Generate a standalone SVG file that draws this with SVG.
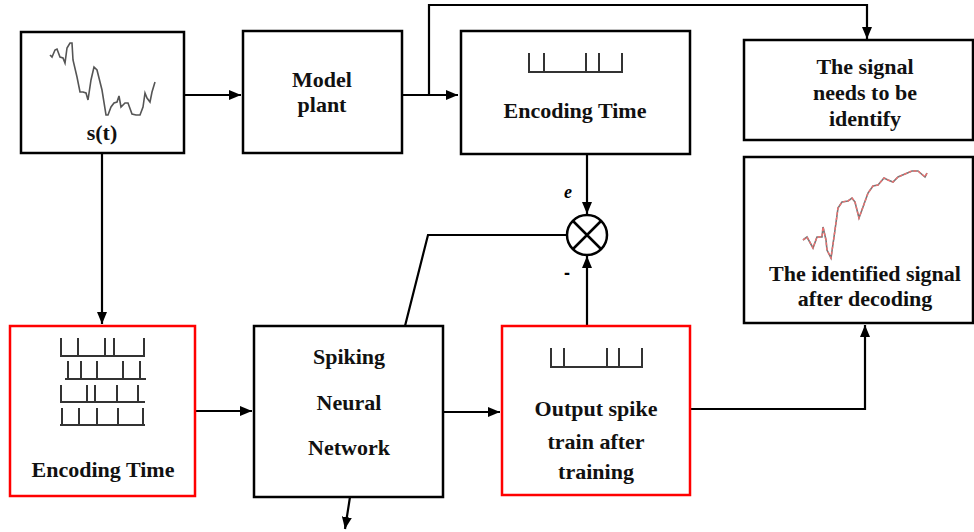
<svg xmlns="http://www.w3.org/2000/svg" width="974" height="532" viewBox="0 0 974 532">
<style>
.box{fill:#fff;stroke:#000;stroke-width:2.5}
.rbox{fill:#fff;stroke:#f00;stroke-width:2.5}
.t{font-family:'Liberation Serif','DejaVu Serif',serif;font-weight:bold;font-size:22px;fill:#111;text-anchor:middle}
.c{fill:none;stroke:#000;stroke-width:2.2}
.sp{fill:none;stroke:#333;stroke-width:2}
</style>
<defs>
<marker id="ah" markerUnits="userSpaceOnUse" markerWidth="13" markerHeight="11" refX="12" refY="5" orient="auto">
<path d="M0,0 L12,5 L0,10 z" fill="#000"/>
</marker>
</defs>
<rect width="974" height="532" fill="#fff"/>

<g id="connectors">
<path class="c" d="M184,95 L241,95" marker-end="url(#ah)"/>
<path class="c" d="M402,95 L458,95" marker-end="url(#ah)"/>
<path class="c" d="M429,95 L429,5 L867,5 L867,39" marker-end="url(#ah)"/>
<path class="c" d="M587,154 L587,214" marker-end="url(#ah)"/>
<path class="c" d="M587,326 L587,256" marker-end="url(#ah)"/>
<path class="c" d="M567,235 L428,235 L405,326"/>
<path class="c" d="M102,153 L102,324" marker-end="url(#ah)"/>
<path class="c" d="M195,411 L252,411" marker-end="url(#ah)"/>
<path class="c" d="M443,412 L500,412" marker-end="url(#ah)"/>
<path class="c" d="M690,409 L865,409 L865,325" marker-end="url(#ah)"/>
<path class="c" d="M350,497 L345,529" marker-end="url(#ah)"/>
</g>

<g id="sum">
<circle cx="587" cy="235" r="20" fill="#fff" stroke="#000" stroke-width="2.5"/>
<path d="M573,221 L601,249 M601,221 L573,249" stroke="#000" stroke-width="2.5"/>
<text x="568" y="198" font-family="'Liberation Serif','DejaVu Serif',serif" font-style="italic" font-weight="bold" font-size="18" text-anchor="middle">e</text>
<text x="567" y="279" font-family="'Liberation Sans',sans-serif" font-weight="bold" font-size="18" text-anchor="middle">-</text>
</g>

<g id="signal">
<rect class="box" x="21" y="32" width="163" height="121"/>
<polyline fill="none" stroke="#555" stroke-width="1.6" points="50,55 52,57 55,50 57,49 60,57 63,58 65,63 67,48 70,43 72,43 73,60 77,77 80,92 83,92 86,93 88,100 91,80 94,67 97,70 102,90 106,115 108,115 111,107 114,103 117,102 119,96 121,107 125,103 128,103 132,114 136,115 140,115 143,107 145,93 147,98 150,102 152,92 155,82"/>
<text class="t" x="102" y="140">s(t)</text>
</g>

<g id="model">
<rect class="box" x="243" y="31" width="159" height="122"/>
<text class="t" x="322" y="87">Model</text>
<text class="t" x="322" y="112">plant</text>
</g>

<g id="enc-top">
<rect class="box" x="461" y="31" width="229" height="123"/>
<path class="sp" d="M529,53 V72 H622 V53 M544,53 V72 M586,53 V72 M599,53 V72"/>
<text class="t" x="575" y="118">Encoding Time</text>
</g>

<g id="need">
<rect class="box" x="744" y="40" width="229" height="100"/>
<text class="t" x="865" y="74">The signal</text>
<text class="t" x="865" y="100">needs to be</text>
<text class="t" x="865" y="126">identify</text>
</g>

<g id="identified">
<rect class="box" x="744" y="157" width="229" height="166"/>
<polyline fill="none" stroke="#777" stroke-width="1.6" points="803,240 807,237 813,248 817,237 822,237 823,227 826,240 827,250 831,258 835,230 838,208 842,202 848,201 852,198 855,202 859,218 863,207 868,193 873,186 878,185 884,178 888,180 893,182 898,177 905,174 912,171 918,171 925,177 927,173"/>
<polyline fill="none" stroke="#f07070" stroke-width="1.4" stroke-dasharray="3,2" points="803,240 807,237 813,248 817,237 822,237 823,227 826,240 827,250 831,258 835,230 838,208 842,202 848,201 852,198 855,202 859,218 863,207 868,193 873,186 878,185 884,178 888,180 893,182 898,177 905,174 912,171 918,171 925,177 927,173"/>
<text class="t" x="865" y="281">The identified signal</text>
<text class="t" x="865" y="306">after decoding</text>
</g>

<g id="enc-bottom">
<rect class="rbox" x="10" y="326" width="185" height="170"/>
<path class="sp" d="M61,338 V356 H145 M78,338 V356 M105,338 V356 M114,338 V356 M144,338 V356"/>
<path class="sp" d="M65,379 H146 M68,361 V379 M81,361 V379 M97,361 V379 M123,361 V379 M140,361 V379"/>
<path class="sp" d="M60,402 H145 M61,385 V402 M87,385 V402 M95,385 V402 M117,385 V402 M138,385 V402"/>
<path class="sp" d="M60,425 H145 M62,408 V425 M79,408 V425 M97,408 V425 M118,408 V425 M143,408 V425"/>
<text class="t" x="103" y="477">Encoding Time</text>
</g>

<g id="snn">
<rect class="box" x="254" y="326" width="189" height="171"/>
<text class="t" x="349" y="364">Spiking</text>
<text class="t" x="349" y="410">Neural</text>
<text class="t" x="349" y="455">Network</text>
</g>

<g id="output">
<rect class="rbox" x="502" y="326" width="188" height="169"/>
<path class="sp" d="M551,348 V367 H642 V348 M564,348 V367 M607,348 V367 M619,348 V367"/>
<text class="t" x="596" y="416">Output spike</text>
<text class="t" x="596" y="449">train after</text>
<text class="t" x="596" y="479">training</text>
</g>
</svg>
